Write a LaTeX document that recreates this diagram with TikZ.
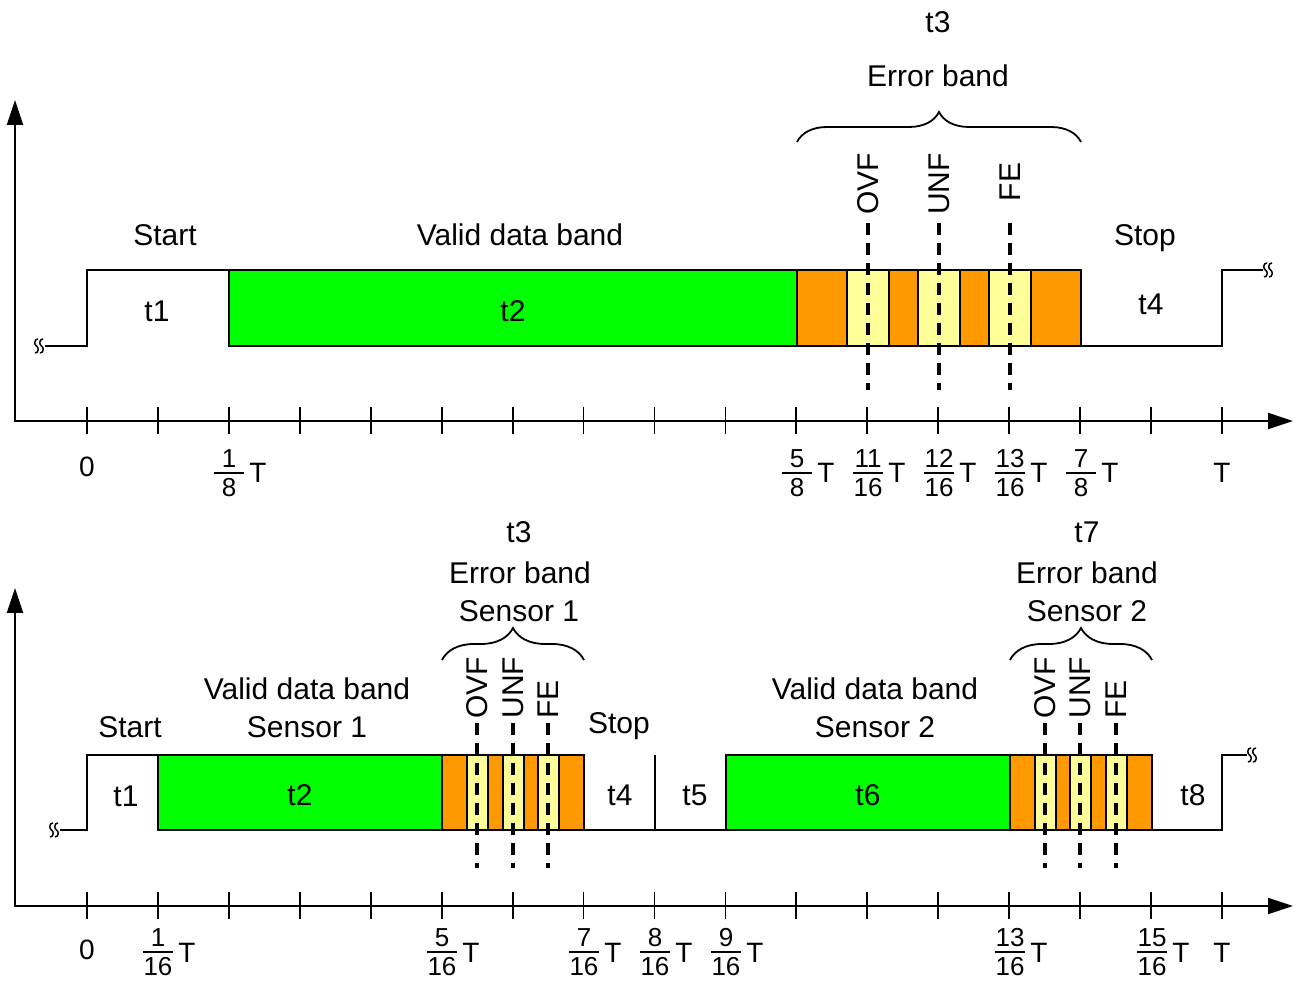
\documentclass[tikz,border=0pt]{standalone}
\usepackage{fontspec}
\setmainfont{Liberation Sans}
\usepackage{amsmath}
\usetikzlibrary{arrows.meta,decorations.pathreplacing}

\definecolor{validgreen}{RGB}{0,255,0}
\definecolor{errorange}{RGB}{255,153,0}
\definecolor{flagyellow}{RGB}{255,255,153}

% fraction for the time axis
\newcommand\fr[2]{$\genfrac{}{}{0.9pt}{1}{\hbox{\rule[-1.3pt]{0pt}{1pt}#1}}{\hbox{\rule{0pt}{10.6pt}\makebox[1.12em]{#2}}}$}

\tikzset{
	lbl/.style={font=\fontsize{15}{19}\selectfont, anchor=base, inner sep=0pt},
	ticklbl/.style={font=\fontsize{14}{16}\selectfont, anchor=base, inner sep=0pt},
	fraclbl/.style={font=\fontsize{13}{15}\selectfont, anchor=base, inner sep=0pt},
	flag/.style={font=\fontsize{15}{19}\selectfont, rotate=90, inner sep=1pt},
	sig/.style={line width=1pt},
	tickmark/.style={line width=0.9pt},
	errline/.style={line width=1.6pt, dash pattern=on 6pt off 4pt},
	brc/.style={decorate, decoration={brace, amplitude=#1}, line width=0.9pt},
	brk/.pic={
		\draw[line width=0.75pt] (3,-7) .. controls (-1,-7) and (-1,-1) .. (1.5,0) .. controls (4,1) and (4,7) .. (0,7);
		\draw[line width=0.75pt] (8,-7) .. controls (4,-7) and (4,-1) .. (6.5,0) .. controls (9,1) and (9,7) .. (5,7);
	}
}

\begin{document}
\begin{tikzpicture}[x=0.5pt,y=-0.5pt]
	\useasboundingbox (0,0) rectangle (1298,983);

	% ---------- upper frame ----------
	\draw[line width=1pt, {Triangle[length=12.5pt,width=8pt]}-{Triangle[length=12.5pt,width=8pt]}] (15,100) -- (15,421) -- (1293,421);
	\foreach \k in {0,...,16}
		\draw[tickmark] ({87+70.9375*\k},407) -- ++(0,27);

	\draw[sig] (45,346) -- (87,346) -- (87,270) -- (229,270);
	\filldraw[sig, fill=validgreen] (229,270) rectangle (797,346);
	\filldraw[sig, fill=errorange] (797,270) rectangle (1081,346);
	\foreach \x in {868,939,1010}
		\filldraw[sig, fill=flagyellow] (\x-21,270) rectangle (\x+21,346);
	\draw[sig] (1081,346) -- (1222,346) -- (1222,270) -- (1263,270);
	\pic at (35,346) {brk};
	\pic at (1264,270) {brk};

	\foreach \x in {868,939,1010}
		\draw[errline] (\x,223) -- (\x,390);
	\node[flag] (ovfa) at (868,184) {OVF};
	\node[flag] (unfa) at (939,184) {UNF};
	\node[flag] (fea) at (1010,182) {FE};

	\draw[brc=15pt] (797,142) -- (1081,142);
	\node[lbl] (tthreea) at (938,33) {t3};
	\node[lbl] (erra) at (938,87) {Error band};

	\node[lbl] (starta) at (165,246) {Start};
	\node[lbl] (valida) at (520,246) {Valid data band};
	\node[lbl] (stopa) at (1145,246) {Stop};
	\node[lbl] (tonea) at (157,322) {t1};
	\node[lbl] (ttwoa) at (513,322) {t2};
	\node[lbl] (tfoura) at (1151,315) {t4};

	\node[ticklbl] (zeroa) at (87,477) {0};
	\node[fraclbl] (fa1) at (229,479) {\fr{1}{8}};
	\node[ticklbl] at (258,483) {T};
	\node[fraclbl] (fa2) at (797,479) {\fr{5}{8}};
	\node[ticklbl] at (826,483) {T};
	\node[fraclbl] (fa3) at (868,479) {\fr{11}{16}};
	\node[ticklbl] at (897,483) {T};
	\node[fraclbl] (fa4) at (939,479) {\fr{12}{16}};
	\node[ticklbl] at (968,483) {T};
	\node[fraclbl] (fa5) at (1010,479) {\fr{13}{16}};
	\node[ticklbl] at (1039,483) {T};
	\node[fraclbl] (fa6) at (1081,479) {\fr{7}{8}};
	\node[ticklbl] at (1110,483) {T};
	\node[ticklbl] (tenda) at (1222,483) {T};

	% ---------- lower frame ----------
	\draw[line width=1pt, {Triangle[length=12.5pt,width=8pt]}-{Triangle[length=12.5pt,width=8pt]}] (15,588) -- (15,906) -- (1293,906);
	\foreach \k in {0,...,16}
		\draw[tickmark] ({87+70.9375*\k},892) -- ++(0,27);

	\draw[sig] (60,830) -- (87,830) -- (87,755) -- (158,755);
	\filldraw[sig, fill=validgreen] (158,755) rectangle (442,830);
	\filldraw[sig, fill=errorange] (442,755) rectangle (584,830);
	\foreach \x in {477,513,548}
		\filldraw[sig, fill=flagyellow] (\x-10.5,755) rectangle (\x+10.5,830);
	\draw[sig] (584,830) -- (726,830);
	\draw[sig] (655,755) -- (655,830);
	\filldraw[sig, fill=validgreen] (726,755) rectangle (1010,830);
	\filldraw[sig, fill=errorange] (1010,755) rectangle (1152,830);
	\foreach \x in {1045,1080,1116}
		\filldraw[sig, fill=flagyellow] (\x-10.5,755) rectangle (\x+10.5,830);
	\draw[sig] (1152,830) -- (1222,830) -- (1222,755) -- (1247,755);
	\pic at (50,830) {brk};
	\pic at (1248,755) {brk};

	\foreach \x in {477,513,548,1045,1080,1116}
		\draw[errline] (\x,723) -- (\x,868);
	\node[flag, anchor=west] (ovfb) at (477,721) {OVF};
	\node[flag, anchor=west] (unfb) at (513,721) {UNF};
	\node[flag, anchor=west] (feb) at (548,721) {FE};
	\node[flag, anchor=west] (ovfc) at (1045,721) {OVF};
	\node[flag, anchor=west] (unfc) at (1080,721) {UNF};
	\node[flag, anchor=west] (fec) at (1116,721) {FE};

	\draw[brc=16pt] (442,660) -- (584,660);
	\draw[brc=16pt] (1010,660) -- (1152,660);
	\node[lbl] (tthreeb) at (519,543) {t3};
	\node[lbl] (errb) at (520,584) {Error band};
	\node[lbl] (sensb) at (519,622) {Sensor 1};
	\node[lbl] (tseven) at (1087,543) {t7};
	\node[lbl] (errc) at (1087,584) {Error band};
	\node[lbl] (sensc) at (1087,622) {Sensor 2};

	\node[lbl] (startb) at (130,738) {Start};
	\node[lbl] (validb) at (307,700) {Valid data band};
	\node[lbl] (validbs) at (307,738) {Sensor 1};
	\node[lbl] (stopb) at (619,734) {Stop};
	\node[lbl] (validc) at (875,700) {Valid data band};
	\node[lbl] (validcs) at (875,738) {Sensor 2};
	\node[lbl] (toneb) at (126,807) {t1};
	\node[lbl] (ttwob) at (300,806) {t2};
	\node[lbl] (tfourb) at (620,806) {t4};
	\node[lbl] (tfive) at (695,806) {t5};
	\node[lbl] (tsix) at (868,806) {t6};
	\node[lbl] (teight) at (1193,806) {t8};

	\node[ticklbl] (zerob) at (87,960) {0};
	\node[fraclbl] (fb1) at (158,958) {\fr{1}{16}};
	\node[ticklbl] at (187,963) {T};
	\node[fraclbl] (fb2) at (442,958) {\fr{5}{16}};
	\node[ticklbl] at (471,963) {T};
	\node[fraclbl] (fb3) at (584,958) {\fr{7}{16}};
	\node[ticklbl] at (613,963) {T};
	\node[fraclbl] (fb4) at (655,958) {\fr{8}{16}};
	\node[ticklbl] at (684,963) {T};
	\node[fraclbl] (fb5) at (726,958) {\fr{9}{16}};
	\node[ticklbl] at (755,963) {T};
	\node[fraclbl] (fb6) at (1010,958) {\fr{13}{16}};
	\node[ticklbl] at (1039,963) {T};
	\node[fraclbl] (fb7) at (1152,958) {\fr{15}{16}};
	\node[ticklbl] at (1181,963) {T};
	\node[ticklbl] (tendb) at (1222,963) {T};

\end{tikzpicture}
\end{document}
